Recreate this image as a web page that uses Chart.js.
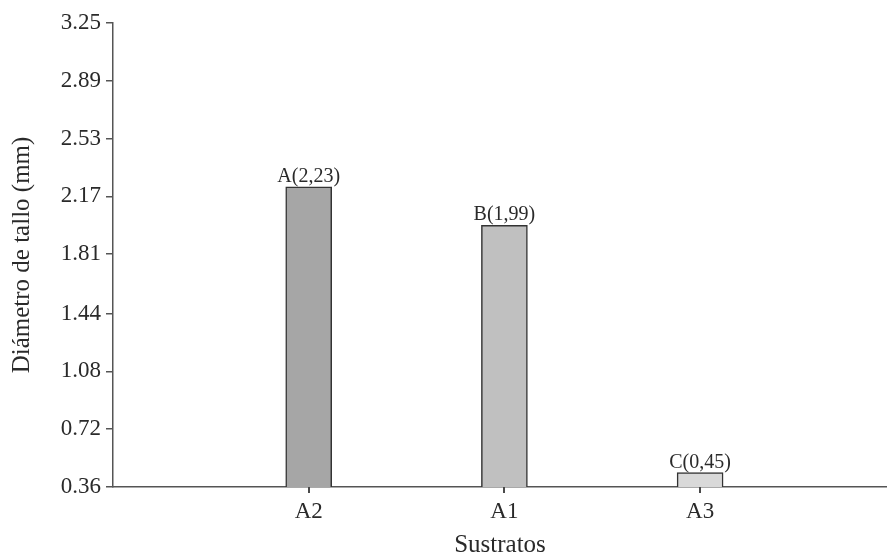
<!DOCTYPE html>
<html>
<head>
<meta charset="utf-8">
<script src="https://cdn.jsdelivr.net/npm/chart.js@4/dist/chart.umd.min.js"></script>
<style>
html,body{margin:0;padding:0;background:#fff;}
#wrap{width:887px;height:559px;position:relative;}
</style>
</head>
<body>
<div id="wrap"><canvas id="c" width="887" height="559"></canvas></div>
<script>
const categories = ['A2', 'A1', 'A3'];
const values = [2.23, 1.99, 0.45];
const barLabels = ['A(2,23)', 'B(1,99)', 'C(0,45)'];
const barColors = ['#a6a6a6', '#c0c0c0', '#d9d9d9'];
const yTickLabels = ['0.36', '0.72', '1.08', '1.44', '1.81', '2.17', '2.53', '2.89', '3.25'];

const FONT = "'Liberation Serif', 'Times New Roman', serif";
const AXIS_COLOR = '#555555';
const TEXT_COLOR = '#2a2a2a';

const barLabelPlugin = {
  id: 'barLabels',
  afterDatasetsDraw(chart) {
    const ctx = chart.ctx;
    const meta = chart.getDatasetMeta(0);
    ctx.save();
    ctx.font = '20px ' + FONT;
    ctx.fillStyle = TEXT_COLOR;
    ctx.textAlign = 'center';
    ctx.textBaseline = 'alphabetic';
    meta.data.forEach((bar, i) => {
      ctx.fillText(barLabels[i], bar.x, bar.y - 5);
    });
    ctx.restore();
  }
};

const xTickMarks = {
  id: 'xTickMarks',
  afterDraw(chart) {
    const ctx = chart.ctx;
    const xs = chart.scales.x;
    const y0 = chart.chartArea.bottom;
    ctx.save();
    ctx.strokeStyle = '#4a4a4a';
    ctx.lineWidth = 2;
    categories.forEach((c, i) => {
      const px = Math.round(xs.getPixelForValue(i + 1));
      ctx.beginPath();
      ctx.moveTo(px, y0);
      ctx.lineTo(px, y0 + 6);
      ctx.stroke();
    });
    ctx.restore();
  }
};

new Chart(document.getElementById('c'), {
  type: 'bar',
  data: {
    datasets: [{
      data: values.map((v, i) => ({ x: i + 1, y: v })),
      backgroundColor: barColors,
      borderColor: '#333333',
      borderWidth: 1.5,
      barThickness: 46
    }]
  },
  options: {
    responsive: false,
    animation: false,
    layout: { padding: { top: 23, right: 0, left: 0, bottom: 0 } },
    plugins: { legend: { display: false }, tooltip: { enabled: false } },
    scales: {
      x: {
        type: 'linear',
        offset: false,
        min: 0,
        max: 3.955,
        afterBuildTicks(scale) { scale.ticks = categories.map((c, i) => ({ value: i + 1 })); },
        afterFit(scale) { scale.height = 72; scale.paddingLeft = 0; scale.paddingRight = 0; },
        border: { display: true, color: AXIS_COLOR, width: 1.5 },
        grid: { display: false },
        ticks: {
          autoSkip: false,
          maxRotation: 0,
          padding: 3,
          color: TEXT_COLOR,
          font: { family: FONT, size: 23 },
          callback: (v) => categories[Math.round(v) - 1] || ''
        },
        title: { display: true, text: 'Sustratos', color: TEXT_COLOR, font: { family: FONT, size: 25, lineHeight: 1 }, padding: { top: 0, bottom: 1 } }
      },
      y: {
        type: 'linear',
        min: 0.36,
        max: 3.25,
        afterBuildTicks(scale) { scale.ticks = yTickLabels.map(t => ({ value: parseFloat(t) })); },
        afterFit(scale) { scale.width = 113; },
        border: { display: true, color: AXIS_COLOR, width: 1.5 },
        grid: { display: true, drawOnChartArea: false, drawTicks: true, tickLength: 7, color: AXIS_COLOR, lineWidth: 1.5 },
        ticks: {
          autoSkip: false,
          padding: 5,
          color: TEXT_COLOR,
          font: { family: FONT, size: 23 },
          callback: (v) => { const i = yTickLabels.findIndex(t => Math.abs(parseFloat(t) - v) < 1e-6); return i >= 0 ? yTickLabels[i] : ''; }
        },
        title: { display: true, text: 'Diámetro de tallo (mm)', color: TEXT_COLOR, font: { family: FONT, size: 25, lineHeight: 1 }, padding: { top: 9.5, bottom: 0 } }
      }
    }
  },
  plugins: [barLabelPlugin, xTickMarks]
});
</script>
</body>
</html>
